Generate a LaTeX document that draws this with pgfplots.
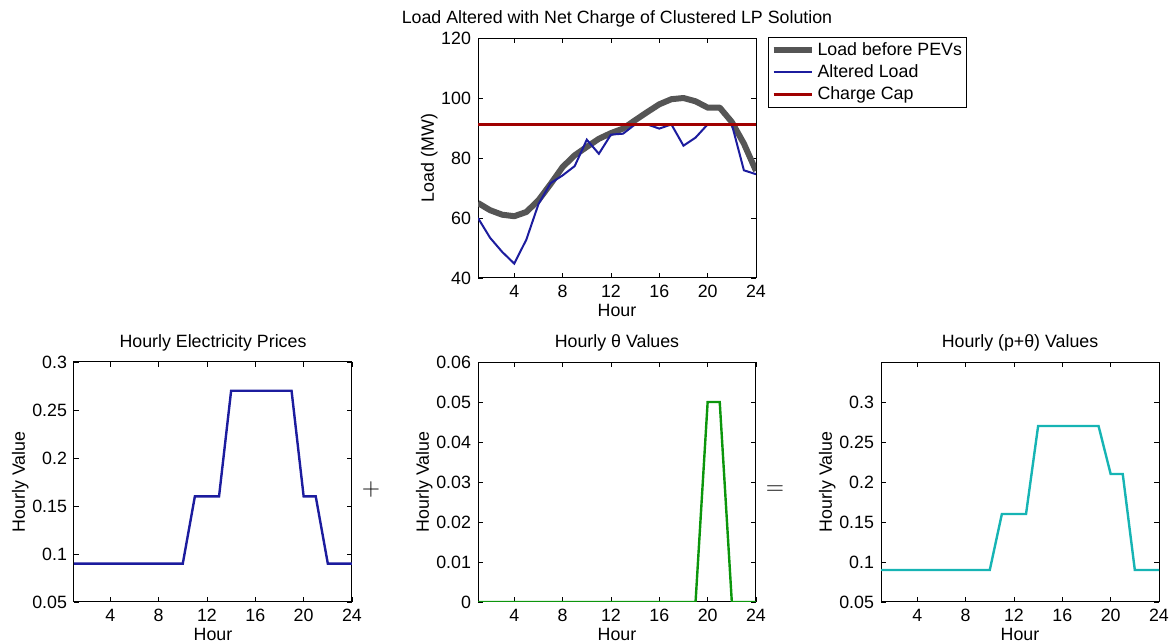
\documentclass[border=0pt]{standalone}
\usepackage{pgfplots}
\pgfplotsset{compat=1.18}
\usepackage{pgfplotstable}
\usepackage{fontspec}
\setmainfont{Liberation Sans}

\definecolor{loadgray}{RGB}{85,85,85}
\definecolor{altblue}{RGB}{28,28,158}
\definecolor{capred}{RGB}{160,0,0}
\definecolor{thgreen}{RGB}{12,150,12}
\definecolor{sumcyan}{RGB}{22,180,180}

% hourly load before PEV charging and after the clustered LP schedule
\pgfplotstableread{
hour base altered
1  65.0 60.0
2  62.6 53.4
3  61.1 48.7
4  60.6 44.8
5  62.0 52.8
6  65.9 64.6
7  71.3 71.6
8  77.0 74.2
9  80.9 77.3
10 83.7 86.1
11 86.4 81.4
12 88.3 87.8
13 89.8 88.1
14 92.6 91.2
15 95.3 91.2
16 97.9 89.8
17 99.6 91.2
18 100.0 84.1
19 98.9 86.8
20 96.8 91.2
21 96.8 91.2
22 92.0 91.2
23 84.8 75.9
24 75.7 74.6
}\loadtable

% hourly price p, penalty theta and their sum
\pgfplotstableread{
hour price theta sum
1  0.09 0    0.09
2  0.09 0    0.09
3  0.09 0    0.09
4  0.09 0    0.09
5  0.09 0    0.09
6  0.09 0    0.09
7  0.09 0    0.09
8  0.09 0    0.09
9  0.09 0    0.09
10 0.09 0    0.09
11 0.16 0    0.16
12 0.16 0    0.16
13 0.16 0    0.16
14 0.27 0    0.27
15 0.27 0    0.27
16 0.27 0    0.27
17 0.27 0    0.27
18 0.27 0    0.27
19 0.27 0    0.27
20 0.16 0.05 0.21
21 0.16 0.05 0.21
22 0.09 0    0.09
23 0.09 0    0.09
24 0.09 0    0.09
}\pricetable

\newcommand{\chartfont}{\fontsize{8.9}{10.5}\selectfont}

\pgfplotsset{
  mlaxis/.style={
    scale only axis,
    width=139pt, height=120pt,
    anchor=south west,
    xmin=1, xmax=24, xtick={4,8,...,24},
    tick align=inside,
    major tick length=2.5pt,
    xtick pos=both, ytick pos=both,
    xticklabel pos=bottom, yticklabel pos=left,
    tick style={black, line width=0.4pt},
    axis line style={line width=0.5pt},
    scaled ticks=false,
    /pgf/number format/assume math mode=true,
    tick label style={font=\chartfont},
    label style={font=\chartfont},
    xlabel=Hour,
    xlabel style={yshift=3.5pt},
    ylabel style={yshift=-5pt},
    title style={font=\chartfont, yshift=-4pt},
  },
}

\begin{document}
\begin{tikzpicture}
\path[use as bounding box] (0pt,0pt) rectangle (584.5pt,321.5pt);

% load profile
\begin{axis}[mlaxis, at={(239pt,182.5pt)},
  ymin=40, ymax=120, ytick={40,60,...,120},
  ylabel={Load (MW)},
  title={Load Altered with Net Charge of Clustered LP Solution},
  legend style={at={(1,1)}, anchor=north west, xshift=6pt, yshift=0.5pt,
    draw=black, line width=0.5pt, font=\chartfont, inner sep=1pt,
    row sep=0pt, nodes={inner sep=1.5pt}},
  legend cell align=left,
  legend image code/.code={\draw[#1] (0pt,0pt) -- (19pt,0pt);},
]
\addplot[loadgray, line width=3pt, line join=round] table[x=hour, y=base] {\loadtable};
\addlegendentry{Load before PEVs}
\addplot[altblue, line width=1pt] table[x=hour, y=altered] {\loadtable};
\addlegendentry{Altered Load}
\addplot[capred, line width=1.5pt] coordinates {(1,91.2) (24,91.2)};
\addlegendentry{Charge Cap}
\end{axis}

% electricity price
\begin{axis}[mlaxis, at={(37pt,20.5pt)},
  ymin=0.05, ymax=0.3,
  ytick={0.05,0.1,0.15,0.2,0.25,0.3},
  yticklabels={0.05,0.1,0.15,0.2,0.25,0.3},
  ylabel={Hourly Value},
  title={Hourly Electricity Prices},
]
\addplot[altblue, line width=1.2pt] table[x=hour, y=price] {\pricetable};
\end{axis}

% theta
\begin{axis}[mlaxis, at={(239pt,20.5pt)},
  ymin=0, ymax=0.06,
  ytick={0,0.01,0.02,0.03,0.04,0.05,0.06},
  yticklabels={0,0.01,0.02,0.03,0.04,0.05,0.06},
  ylabel={Hourly Value},
  title={Hourly θ Values},
]
\addplot[thgreen, line width=1.2pt] table[x=hour, y=theta] {\pricetable};
\end{axis}

% price plus theta
\begin{axis}[mlaxis, at={(440.5pt,20.5pt)},
  ymin=0.05, ymax=0.35,
  ytick={0.05,0.1,0.15,0.2,0.25,0.3},
  yticklabels={0.05,0.1,0.15,0.2,0.25,0.3},
  ylabel={Hourly Value},
  title={Hourly (p+θ) Values},
]
\addplot[sumcyan, line width=1.2pt] table[x=hour, y=sum] {\pricetable};
\end{axis}

\node[font=\fontsize{12}{12}\selectfont] at (185.5pt,76.5pt) {$+$};
\node[font=\fontsize{12}{12}\selectfont] at (387.5pt,76.5pt) {$=$};
\end{tikzpicture}
\end{document}
